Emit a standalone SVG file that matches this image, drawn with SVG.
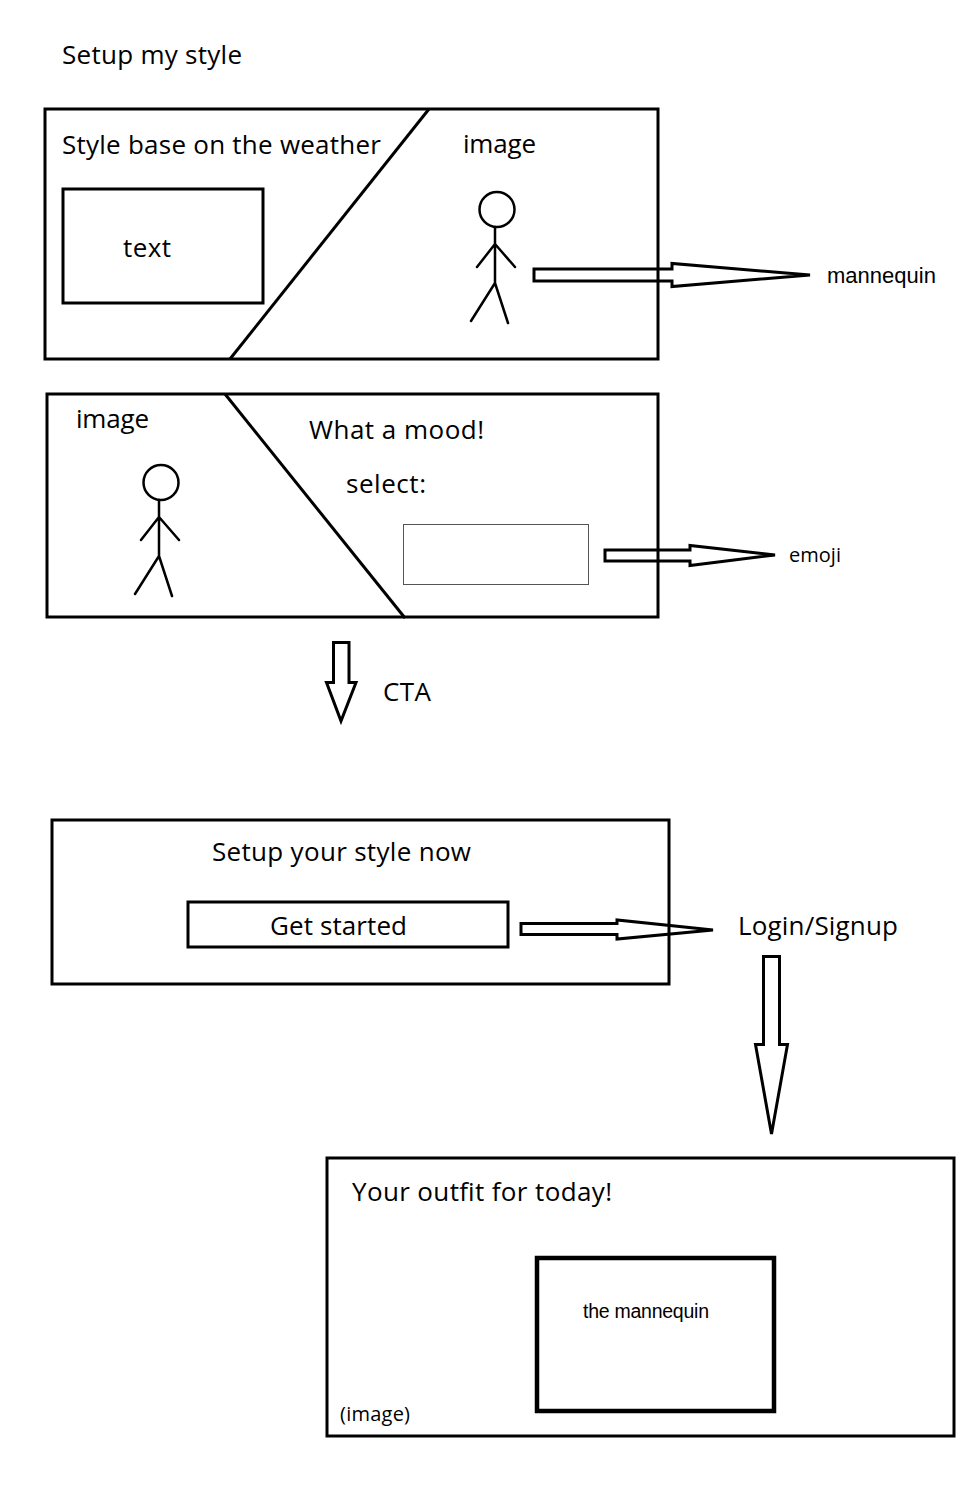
<svg xmlns="http://www.w3.org/2000/svg" width="978" height="1512" viewBox="0 0 978 1512">
<style>
.b{fill:none;stroke:#000;stroke-width:3}
.l{fill:none;stroke:#000;stroke-width:2.5;stroke-linecap:round}
.a{fill:none;stroke:#000;stroke-width:3;stroke-linejoin:miter}
text{font-family:"Open Sans","Noto Sans","Liberation Sans",sans-serif;font-size:26px;fill:#000}
.s{font-family:"Liberation Sans",Arial,sans-serif;font-size:22px}
.m{font-size:20px}
.n{font-family:"Liberation Sans",Arial,sans-serif;font-size:19.500px}
</style>
<rect width="978" height="1512" fill="#fff"/>
<text id="title" x="62" y="64" textLength="180">Setup my style</text>
<g id="weather-panel">
<rect class="b" x="45" y="109" width="613" height="250"/>
<path class="b" d="M429 109L230 359"/>
<text x="62" y="154" textLength="319">Style base on the weather</text>
<text x="463" y="153" textLength="73">image</text>
</g>
<g id="weather-text">
<rect class="b" x="63" y="189" width="200" height="114"/>
<text x="123" y="257" textLength="48">text</text>
</g>
<g id="weather-figure">
<circle class="l" cx="497" cy="209.500" r="17.500"/>
<path class="l" d="M495 227V283M495 244L477 267M495 244L515 267M495 283L471 321M495 283L508 323"/>
</g>
<g id="mood-panel">
<rect class="b" x="47" y="394" width="611" height="223"/>
<path class="b" d="M225 394L405 618"/>
<text x="76" y="428" textLength="73">image</text>
<text x="309" y="439" textLength="175">What a mood!</text>
<text x="346" y="493" textLength="80">select:</text>
</g>
<g id="mood-figure">
<circle class="l" cx="161" cy="482.500" r="17.500"/>
<path class="l" d="M159 500V556M159 517L141 540M159 517L179 540M159 556L135 594M159 556L172 596"/>
</g>
<g id="mood-select">
<rect x="403.500" y="524.500" width="185" height="60" fill="#fff" stroke="#555" stroke-width="1"/>
</g>
<g id="cta-panel">
<rect class="b" x="52" y="820" width="617" height="164"/>
<text x="212" y="861" textLength="259">Setup your style now</text>
</g>
<g id="get-started">
<rect class="b" x="188" y="902" width="320" height="45"/>
<text x="270" y="935" textLength="137">Get started</text>
</g>
<g id="outfit-panel">
<rect class="b" x="327" y="1158" width="627" height="278"/>
<text class="m" x="340" y="1421" textLength="70">(image)</text>
<text x="352" y="1201" textLength="260">Your outfit for today!</text>
</g>
<g id="mannequin-frame">
<rect x="537" y="1258" width="237" height="153" fill="none" stroke="#000" stroke-width="4.500"/>
<text class="n" x="583" y="1318" textLength="126">the mannequin</text>
</g>
<g id="connectors">
<path class="a" d="M534 269H672V263.500L810 275L672 286.500V281H534Z"/>
<path class="a" d="M605 550H690V545.500L775 555L690 565.500V561H605Z"/>
<path class="a" d="M333.500 642.500H349V682.500H356L341 721L326.500 682.500H333.500Z"/>
<path class="a" d="M521 923.500H617V920L713 930L617 939V934.500H521Z"/>
<path class="a" d="M763.500 956.500H779.500V1044.500H787.500L771.500 1134L755.500 1044.500H763.500Z"/>
</g>
<text id="label-mannequin" class="s" x="827" y="283" textLength="109">mannequin</text>
<text id="label-emoji" class="m" x="789" y="562" textLength="52">emoji</text>
<text id="label-cta" x="383" y="701" textLength="48">CTA</text>
<text id="label-login" x="738" y="935" textLength="160">Login/Signup</text>
</svg>
